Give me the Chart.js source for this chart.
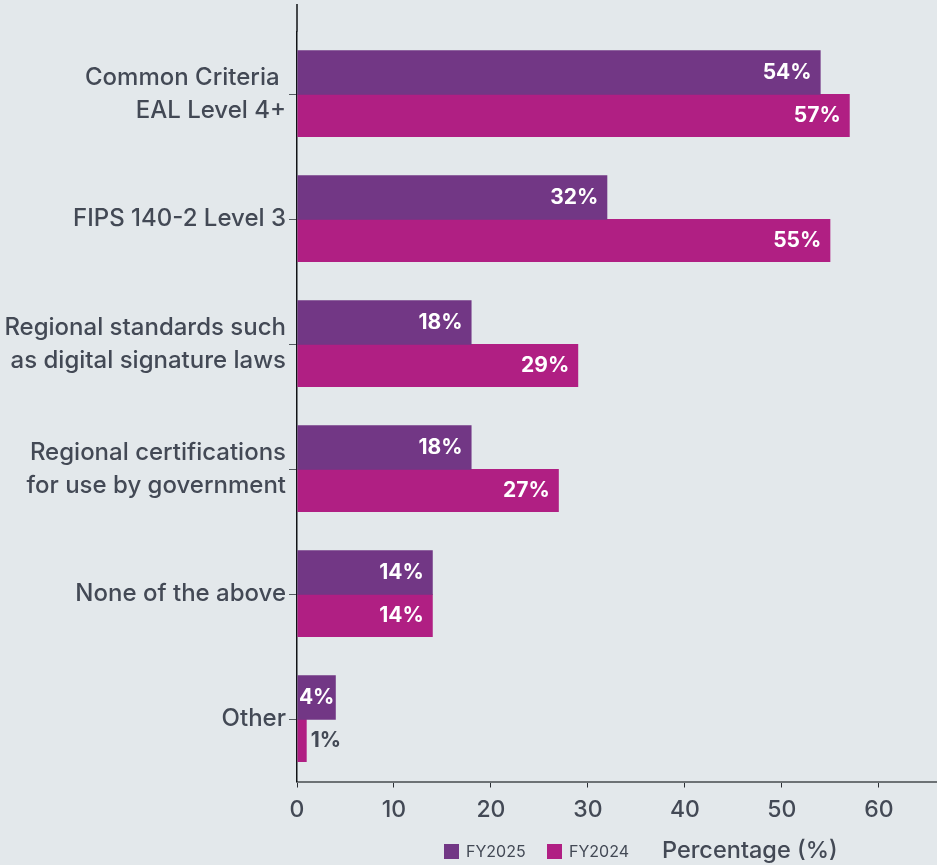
<!DOCTYPE html>
<html lang="en">
<head>
  <meta charset="UTF-8">
  <title>Certification requirements</title>
  <script src="https://cdn.jsdelivr.net/npm/chart.js"></script>
  <style>
    body { margin: 0; background-color: #e3e8eb; }
    #wrap { width: 937px; height: 865px; }
  </style>
</head>
<body>
  <div id="wrap">
    <canvas id="certChart" width="937" height="865"></canvas>
  </div>

  <script>
    const categories = [
      ['Common Criteria ', 'EAL Level 4+'],
      'FIPS 140-2 Level 3',
      ['Regional standards such', 'as digital signature laws'],
      ['Regional certifications', 'for use by government'],
      'None of the above',
      'Other'
    ];
    const seriesNames = ['FY2025', 'FY2024'];
    const fy2025 = [54, 32, 18, 18, 14, 4];
    const fy2024 = [57, 55, 29, 27, 14, 1];
    const axisTitle = 'Percentage (%)';

    const FONT = 'Inter, "Noto Sans", sans-serif';
    const TEXT = '#434955';

    // value labels at the end of each bar (inside when there is room)
    const barLabels = {
      id: 'barLabels',
      afterDatasetsDraw(chart) {
        const ctx = chart.ctx;
        ctx.save();
        ctx.font = 'bold 21px ' + FONT;
        ctx.textBaseline = 'middle';
        chart.data.datasets.forEach((ds, i) => {
          chart.getDatasetMeta(i).data.forEach((bar, j) => {
            const txt = ds.data[j] + '%';
            const w = ctx.measureText(txt).width;
            const len = bar.x - bar.base;
            const y = i === 0 ? bar.y + 0.5 : bar.y;
            if (len >= w + 16) {
              ctx.fillStyle = '#ffffff';
              ctx.textAlign = 'right';
              ctx.fillText(txt, bar.x - 9, y);
            } else if (len >= w - 2) {
              ctx.fillStyle = '#ffffff';
              ctx.textAlign = 'center';
              ctx.fillText(txt, (bar.x + bar.base) / 2, y);
            } else {
              ctx.fillStyle = TEXT;
              ctx.textAlign = 'left';
              ctx.fillText(txt, bar.x + 4, y);
            }
          });
        });
        ctx.restore();
      }
    };

    // y axis line runs a little above the plot, legend + axis title share the bottom row
    const frame = {
      id: 'frame',
      afterDraw(chart) {
        const ctx = chart.ctx;
        const area = chart.chartArea;
        ctx.save();
        ctx.strokeStyle = '#111316';
        ctx.lineWidth = 1.5;
        ctx.beginPath();
        ctx.moveTo(area.left, 4);
        ctx.lineTo(area.left, area.top);
        ctx.stroke();

        const y = 851;
        const keyX = [444, 547];
        ctx.textBaseline = 'middle';
        ctx.textAlign = 'left';
        chart.data.datasets.forEach((ds, i) => {
          ctx.fillStyle = ds.backgroundColor;
          ctx.fillRect(keyX[i], y - 7, 15, 15);
          ctx.fillStyle = TEXT;
          ctx.font = '16px ' + FONT;
          ctx.fillText(ds.label, keyX[i] + 22, y + 1);
        });
        ctx.font = '500 23.5px ' + FONT;
        ctx.fillText(axisTitle, 662, y);
        ctx.restore();
      }
    };

    const ctx = document.getElementById('certChart').getContext('2d');
    new Chart(ctx, {
      type: 'bar',
      data: {
        labels: categories,
        datasets: [
          // first bar a touch wider so it tucks under the second one, no seam between them
          { label: seriesNames[0], data: fy2025, backgroundColor: '#723785', barPercentage: 1.04 },
          { label: seriesNames[1], data: fy2024, backgroundColor: '#b01f83', barPercentage: 1 }
        ]
      },
      options: {
        indexAxis: 'y',
        responsive: false,
        animation: false,
        layout: { padding: { top: 31.5, right: 0, bottom: 0, left: 0 } },
        datasets: { bar: { categoryPercentage: 0.688 } },
        plugins: {
          legend: { display: false },
          tooltip: { enabled: false }
        },
        scales: {
          x: {
            min: 0,
            max: 66,
            afterFit(scale) { scale.height = 83.5; },
            border: { color: '#6d7275', width: 2 },
            grid: { drawOnChartArea: false, tickLength: 6, color: '#2a2d33', tickWidth: 1 },
            ticks: {
              stepSize: 10,
              padding: 9,
              color: TEXT,
              font: { family: FONT, size: 23, weight: 500 },
              callback: (v) => (v % 10 === 0 ? v : null)
            }
          },
          y: {
            afterFit(scale) {
              scale.width = 297;
              // two-line labels would otherwise push the plot area down
              scale.paddingTop = 0;
              scale.paddingBottom = 0;
            },
            border: { color: '#111316', width: 1.5 },
            grid: { drawOnChartArea: false, offset: false, tickLength: 8, color: '#555a60' },
            ticks: {
              padding: 3,
              color: TEXT,
              font: { family: FONT, size: 24, weight: 500, lineHeight: 1.38 }
            }
          }
        }
      },
      plugins: [barLabels, frame]
    });
  </script>
</body>
</html>
